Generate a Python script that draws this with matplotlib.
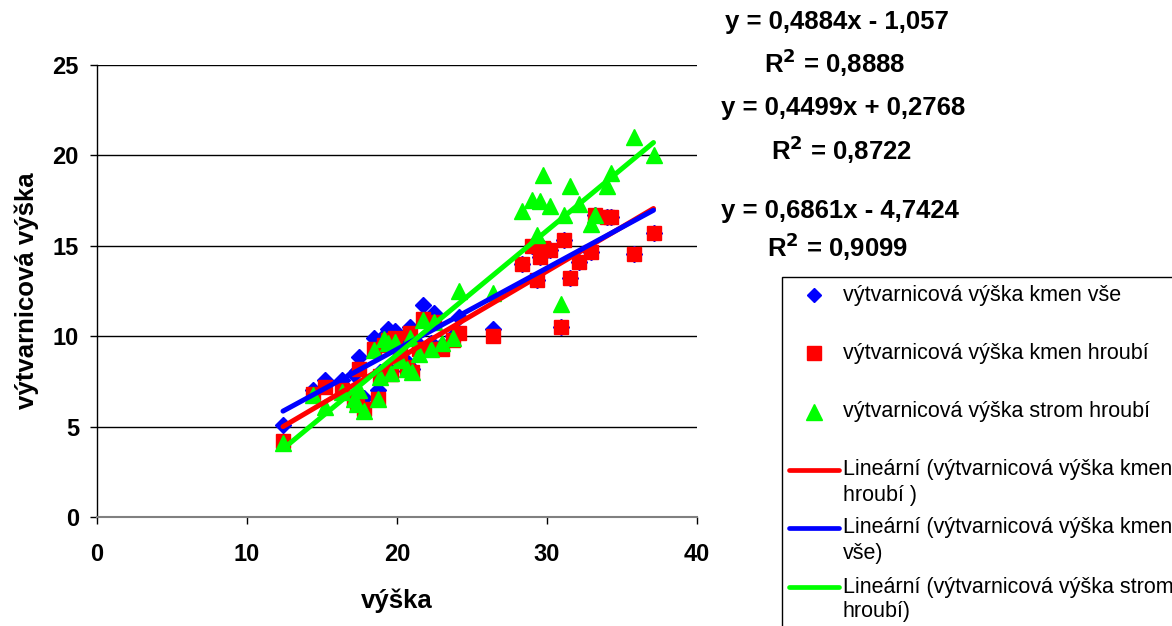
import matplotlib
matplotlib.use("Agg")
import matplotlib.pyplot as plt
from matplotlib.lines import Line2D
from matplotlib.patches import Rectangle
import numpy as np

plt.rcParams['font.family'] = ['Liberation Sans', 'DejaVu Sans']

# Tree height (výška) and form heights of the three variants
vyska = [12.4, 14.4, 15.2, 16.3, 17.1, 17.3, 17.5, 17.8, 18.5, 18.75, 18.9, 19.1,
         19.4, 19.6, 19.9, 20.2, 20.7, 20.9, 21.0, 21.5, 21.75, 22.3, 22.45, 23.0,
         23.75, 24.1, 26.4, 28.3, 29.0, 29.3, 29.5, 29.7, 30.2, 30.9, 31.1, 31.5,
         32.1, 32.9, 33.2, 34.0, 34.3, 35.8, 37.1]
kmen_vse = [5.1, 7.05, 7.6, 7.6, 7.9, 8.1, 8.85, 6.6, 9.9, 7.0, 8.0, 10.0,
            10.4, 8.1, 10.3, 9.6, 8.6, 10.5, 8.2, 9.5, 11.75, 9.6, 11.3, 9.5,
            10.0, 11.05, 10.4, 14.0, 15.0, 13.1, 14.4, 14.9, 14.75, 10.5, 15.3, 13.2,
            14.1, 14.65, 16.7, 16.6, 16.6, 14.55, 15.7]
kmen_hroubi = [4.2, 6.8, 7.2, 7.0, 6.6, 6.3, 8.2, 6.0, 9.3, 6.5, 7.8, 9.5,
               9.8, 7.9, 9.9, 9.0, 8.3, 10.2, 8.0, 9.3, 10.95, 9.3, 10.8, 9.3,
               9.8, 10.15, 10.0, 14.0, 15.0, 13.1, 14.4, 14.9, 14.75, 10.5, 15.3, 13.2,
               14.1, 14.65, 16.7, 16.6, 16.6, 14.55, 15.7]
strom_hroubi = [4.1, 6.75, 6.1, 6.9, 6.5, 6.25, 7.0, 5.85, 9.25, 6.55, 7.75, 9.85,
                9.6, 7.95, 9.7, 8.7, 8.2, 9.9, 8.0, 9.0, 10.9, 9.3, 10.8, 9.6,
                9.9, 12.5, 12.4, 16.9, 17.55, 15.6, 17.5, 18.9, 17.2, 11.8, 16.7, 18.3,
                17.3, 16.2, 16.7, 18.3, 19.0, 21.0, 20.0]

# Linear trend coefficients (slope, intercept) and R² values
trend_kmen_hroubi = (0.4884, -1.057)
trend_kmen_vse = (0.4499, 0.2768)
trend_strom_hroubi = (0.6861, -4.7424)
r2_kmen_hroubi = 0.8888
r2_kmen_vse = 0.8722
r2_strom_hroubi = 0.9099

x_ticks = [0, 10, 20, 30, 40]
y_ticks = [0, 5, 10, 15, 20, 25]

BLUE = '#0000FF'
RED = '#FF0000'
GREEN = '#00FF00'

W, H = 1172, 626
fig = plt.figure(figsize=(W / 100, H / 100), dpi=100)
ax = fig.add_axes([97 / W, 1 - 517 / H, 600 / W, 452 / H])

ax.plot(vyska, kmen_vse, linestyle='none', marker='D', markersize=8,
        color=BLUE, zorder=3)
ax.plot(vyska, kmen_hroubi, linestyle='none', marker='s', markersize=10,
        color=RED, zorder=4)
ax.plot(vyska, strom_hroubi, linestyle='none', marker='^', markersize=11,
        color=GREEN, zorder=5)

xs = np.array([min(vyska), max(vyska)])
for (k, q), col in [(trend_kmen_hroubi, RED), (trend_kmen_vse, BLUE),
                    (trend_strom_hroubi, GREEN)]:
    ax.plot(xs, k * xs + q, color=col, linewidth=3.6, solid_capstyle='round',
            zorder=6)

ax.set_xlim(0, 40)
ax.set_ylim(0, 25)
ax.set_xticks(x_ticks)
ax.set_yticks(y_ticks)
ax.tick_params(labelsize=17, width=1, length=5, direction='out')
ax.tick_params(axis='x', pad=14)
ax.tick_params(axis='y', pad=8)
for lab in ax.get_xticklabels() + ax.get_yticklabels():
    lab.set_fontweight('bold')
ax.yaxis.grid(True, color='black', linewidth=1)
ax.set_axisbelow(True)
for side in ['top', 'right']:
    ax.spines[side].set_visible(False)
ax.spines['left'].set_linewidth(1)
ax.spines['bottom'].set_color('#808080')
ax.spines['bottom'].set_linewidth(1.5)

ax.set_xlabel('výška', fontsize=18.5, fontweight='bold', labelpad=16)
ax.set_ylabel('výtvarnicová výška', fontsize=18.5, fontweight='bold', labelpad=10)


def fmt(v, n):
    return f'{abs(v):.{n}f}'.replace('.', ',')


def eq_text(k, q):
    sign = '-' if q < 0 else '+'
    return f'y = {fmt(k, 4)}x {sign} {fmt(q, 4).rstrip("0")}'


def fx(px):
    return px / W


def fy(py):
    return 1 - py / H


eq_rows = [(trend_kmen_hroubi, r2_kmen_hroubi, 837, 22, 63),
           (trend_kmen_vse, r2_kmen_vse, 843, 108, 150),
           (trend_strom_hroubi, r2_strom_hroubi, 840, 211, 247)]
for (k, q), r2, cx, y_eq, y_r2 in eq_rows:
    fig.text(fx(cx), fy(y_eq), eq_text(k, q), ha='center', va='center',
             fontsize=18.5, fontweight='bold')
    fig.text(fx(cx - 2), fy(y_r2), f'R$^{{\\mathbf{{2}}}}$ = {fmt(r2, 4)}',
             ha='center', va='center', fontsize=18.5, fontweight='bold')

# Legend box
fig.patches.append(Rectangle((fx(782), fy(640)), (1200 - 782) / W, (640 - 277) / H,
                             transform=fig.transFigure, facecolor='white',
                             edgecolor='black', linewidth=1, zorder=1))
legend_rows = [
    ('D', BLUE, ['výtvarnicová výška kmen vše'], 295),
    ('s', RED, ['výtvarnicová výška kmen hroubí'], 353),
    ('^', GREEN, ['výtvarnicová výška strom hroubí'], 412),
    ('-', RED, ['Lineární (výtvarnicová výška kmen', 'hroubí )'], 470),
    ('-', BLUE, ['Lineární (výtvarnicová výška kmen', 'vše)'], 528),
    ('-', GREEN, ['Lineární (výtvarnicová výška strom', 'hroubí)'], 587),
]
for mk, col, lines, py in legend_rows:
    if mk == '-':
        fig.add_artist(Line2D([fx(789), fx(839)], [fy(py), fy(py)], color=col,
                              linewidth=3.4, solid_capstyle='round',
                              transform=fig.transFigure))
    else:
        fig.add_artist(Line2D([fx(814)], [fy(py)], marker=mk, color=col,
                              markersize={'D': 7, 's': 10, '^': 11}[mk],
                              linestyle='none', transform=fig.transFigure))
    for i, line in enumerate(lines):
        fig.text(fx(843), fy(py + 25 * i), line, ha='left', va='center',
                 fontsize=15.5)

fig.savefig('out.png', dpi=100)
